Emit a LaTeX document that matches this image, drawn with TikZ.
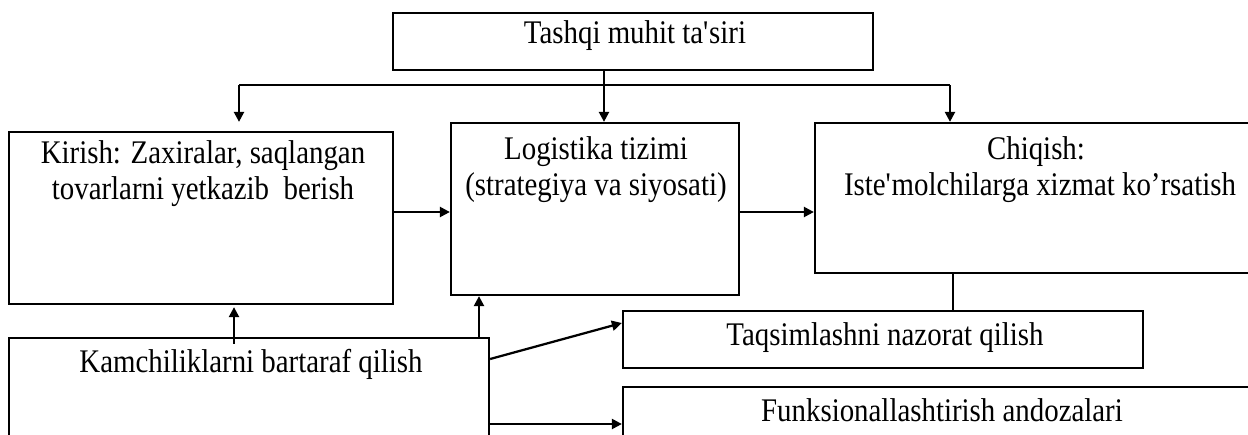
\documentclass[tikz,border=0pt]{standalone}
\usepackage{fontspec}
\setmainfont{Liberation Serif}[FakeStretch=0.875]
\usetikzlibrary{arrows.meta,fit,calc}
\begin{document}
\begin{tikzpicture}[x=0.4pt,y=-0.4pt,
  line width=0.9pt,
  box/.style={draw,rectangle,inner sep=0pt,line width=0.9pt},
  txt/.style={anchor=base,inner sep=0pt,font=\fontsize{13.2pt}{14pt}\selectfont},
  arr/.style={-{Triangle[length=4pt,width=4pt]}},
  link/.style={line width=0.9pt}]
\useasboundingbox (0,0) rectangle (1248,434);
\clip (0,0) rectangle (1248,434);
\fill[white] (0,0) rectangle (1248,434);

% boxes
\node[box,fit={(393,13)(873,70)}] (tashqi) {};
\node[box,fit={(9,132)(393,304)}] (kirish) {};
\node[box,fit={(451,123)(739,295)}] (logi) {};
\node[box,fit={(815,123)(1262,273)}] (chiqish) {};
\node[box,fit={(9,338)(489,442)}] (kamch) {};
\node[box,fit={(623,311)(1143,368)}] (taqsim) {};
\node[box,fit={(623,387)(1262,442)}] (funk) {};

% labels
\node[txt] (t1) at (635,43) {Tashqi muhit ta\textquotesingle siri};
\node[txt] (k1) at (203,163) {Kirish: Zaxiralar, saqlangan};
\node[txt] (k2) at (203,199) {tovarlarni yetkazib\ \ berish};
\node[txt] (l1) at (596,159) {Logistika tizimi};
\node[txt] (l2) at (596,195) {(strategiya va siyosati)};
\node[txt] (c1) at (1036,159) {Chiqish:};
\node[txt] (c2) at (1040,195) {Iste\textquotesingle molchilarga xizmat ko’rsatish};
\node[txt] (m1) at (251,372) {Kamchiliklarni bartaraf qilish};
\node[txt] (q1) at (885,345) {Taqsimlashni nazorat qilish};
\node[txt] (f1) at (942,421) {Funksionallashtirish andozalari};

% distribution from the top box
\coordinate (busL) at (239,85);
\coordinate (busR) at (950,85);
\coordinate (mid) at (604,0);
\draw[link] (busL) -- (busR);
\draw[arr,shorten >=3.6pt] (busL) -- (busL |- kirish.north);
\draw[arr] (busR) -- (busR |- chiqish.north);
\draw[arr] (tashqi.south -| mid) -- (logi.north -| mid);

% main flow
\coordinate (row) at (0,212);
\draw[arr] (kirish.east |- row) -- (logi.west |- row);
\draw[arr] (logi.east |- row) -- (chiqish.west |- row);

% feedback and control
\coordinate (up1) at (234,0);
\coordinate (up2) at (479,0);
\draw[arr,shorten <=-2.8pt,shorten >=0.8pt] (kamch.north -| up1) -- (kirish.south -| up1);
\draw[arr] (kamch.north -| up2) -- (logi.south -| up2);
\coordinate (d0) at (0,359);
\coordinate (d1) at (0,323);
\draw[arr] (kamch.east |- d0) -- (taqsim.west |- d1);
\coordinate (low) at (0,424);
\draw[arr] (kamch.east |- low) -- (funk.west |- low);
\coordinate (tie) at (953,0);
\draw[link] (chiqish.south -| tie) -- (taqsim.north -| tie);
\end{tikzpicture}
\end{document}
